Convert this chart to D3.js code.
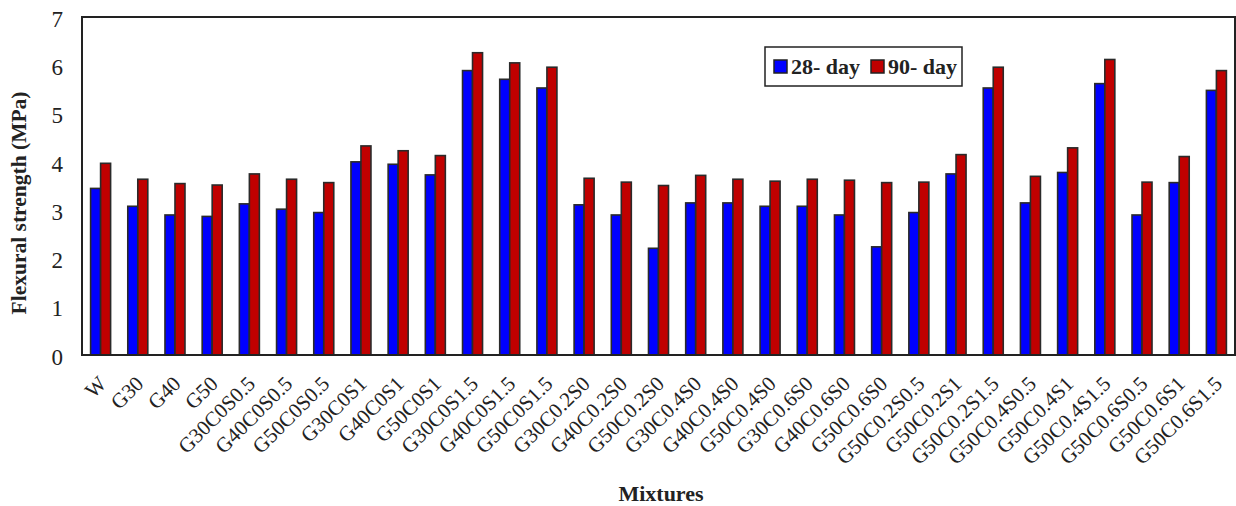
<!DOCTYPE html>
<html>
<head>
<meta charset="utf-8">
<script src="https://cdn.jsdelivr.net/npm/d3@7"></script>
<style>
  html, body { margin: 0; padding: 0; background: #fff; }
  svg { display: block; }
  text { font-family: "Liberation Serif", "Times New Roman", serif; fill: #222; }
</style>
</head>
<body>
<svg id="chart" width="1236" height="506"></svg>
<script>
// Mixture designations
const mixtures = [
  "W", "G30", "G40", "G50",
  "G30C0S0.5", "G40C0S0.5", "G50C0S0.5",
  "G30C0S1", "G40C0S1", "G50C0S1",
  "G30C0S1.5", "G40C0S1.5", "G50C0S1.5",
  "G30C0.2S0", "G40C0.2S0", "G50C0.2S0",
  "G30C0.4S0", "G40C0.4S0", "G50C0.4S0",
  "G30C0.6S0", "G40C0.6S0", "G50C0.6S0",
  "G50C0.2S0.5", "G50C0.2S1", "G50C0.2S1.5",
  "G50C0.4S0.5", "G50C0.4S1", "G50C0.4S1.5",
  "G50C0.6S0.5", "G50C0.6S1", "G50C0.6S1.5"
];

// Flexural strength (MPa)
const day28 = [
  3.45, 3.08, 2.90, 2.87,
  3.13, 3.02, 2.95,
  4.00, 3.95, 3.73,
  5.89, 5.71, 5.53,
  3.11, 2.90, 2.21,
  3.15, 3.15, 3.08,
  3.08, 2.90, 2.24,
  2.95, 3.75, 5.53,
  3.15, 3.78, 5.62,
  2.90, 3.57, 5.48
];
const day90 = [
  3.97, 3.64, 3.55, 3.52,
  3.75, 3.64, 3.57,
  4.33, 4.23, 4.13,
  6.26, 6.05, 5.96,
  3.66, 3.58, 3.51,
  3.72, 3.64, 3.60,
  3.64, 3.62, 3.57,
  3.58, 4.15, 5.96,
  3.70, 4.29, 6.12,
  3.58, 4.11, 5.89
];

const seriesNames = ["28- day", "90- day"];
const seriesColors = ["#0000ff", "#c00000"];
const yTicks = [0, 1, 2, 3, 4, 5, 6, 7];

const svg = d3.select("#chart");
const plot = { left: 82, right: 1235, top: 17, bottom: 355 };

const x0 = d3.scaleBand()
  .domain(mixtures)
  .range([plot.left, plot.right])
  .paddingInner(0.462)
  .paddingOuter(0.231);

const x1 = d3.scaleBand()
  .domain(seriesNames)
  .range([0, x0.bandwidth()]);

const y = d3.scaleLinear().domain([0, 7]).range([plot.bottom, plot.top]);

const color = d3.scaleOrdinal().domain(seriesNames).range(seriesColors);

const rows = mixtures.map((m, i) => ({ mix: m, values: [day28[i], day90[i]] }));

// Bars
const groups = svg.append("g")
  .selectAll("g")
  .data(rows)
  .join("g")
  .attr("transform", d => `translate(${x0(d.mix)},0)`);

groups.selectAll("rect")
  .data(d => seriesNames.map((s, k) => ({ s, v: d.values[k] })))
  .join("rect")
  .attr("x", d => x1(d.s))
  .attr("y", d => y(d.v))
  .attr("width", x1.bandwidth())
  .attr("height", d => y(0) - y(d.v))
  .attr("fill", d => color(d.s))
  .attr("stroke", "#2a2a2a")
  .attr("stroke-width", 1.6);

// Plot frame
svg.append("rect")
  .attr("x", plot.left)
  .attr("y", plot.top)
  .attr("width", plot.right - plot.left)
  .attr("height", plot.bottom - plot.top)
  .attr("fill", "none")
  .attr("stroke", "#222")
  .attr("stroke-width", 2);

// Y axis (labels only)
const yAxis = svg.append("g")
  .attr("transform", `translate(${plot.left},0)`)
  .call(d3.axisLeft(y).tickValues(yTicks).tickSize(0).tickPadding(19).tickFormat(d3.format("d")));
yAxis.select(".domain").remove();
yAxis.selectAll("text")
  .style("font-family", "'Liberation Serif', serif")
  .style("font-size", "23px")
  .attr("dy", "0.4em")
  .attr("fill", "#222");

// X axis labels, rotated
const xAxis = svg.append("g")
  .attr("transform", `translate(0,${plot.bottom})`)
  .call(d3.axisBottom(x0).tickSize(0).tickPadding(0));
xAxis.select(".domain").remove();
xAxis.selectAll("text")
  .style("font-family", "'Liberation Serif', serif")
  .style("font-size", "21px")
  .attr("fill", "#222")
  .attr("text-anchor", "end")
  .attr("y", 0)
  .attr("dy", "0")
  .attr("transform", "translate(7,30) rotate(-45)");

// Axis titles
svg.append("text")
  .attr("transform", `translate(26,${(plot.top + plot.bottom) / 2 + 17}) rotate(-90)`)
  .attr("text-anchor", "middle")
  .style("font-size", "21.5px")
  .style("font-weight", "bold")
  .text("Flexural strength (MPa)");

svg.append("text")
  .attr("x", 661)
  .attr("y", 501)
  .attr("text-anchor", "middle")
  .style("font-size", "22px")
  .style("font-weight", "bold")
  .text("Mixtures");

// Legend
const legend = svg.append("g").attr("transform", "translate(765,47)");
legend.append("rect")
  .attr("width", 197).attr("height", 39)
  .attr("fill", "#fff").attr("stroke", "#222").attr("stroke-width", 1.5);
const legendX = [9, 106];
seriesNames.forEach((s, k) => {
  legend.append("rect")
    .attr("x", legendX[k]).attr("y", 13)
    .attr("width", 13).attr("height", 13)
    .attr("fill", color(s)).attr("stroke", "#222").attr("stroke-width", 1.5);
  legend.append("text")
    .attr("x", legendX[k] + 17).attr("y", 27)
    .style("font-size", "22px")
    .style("font-weight", "bold")
    .text(s);
});
</script>
</body>
</html>
